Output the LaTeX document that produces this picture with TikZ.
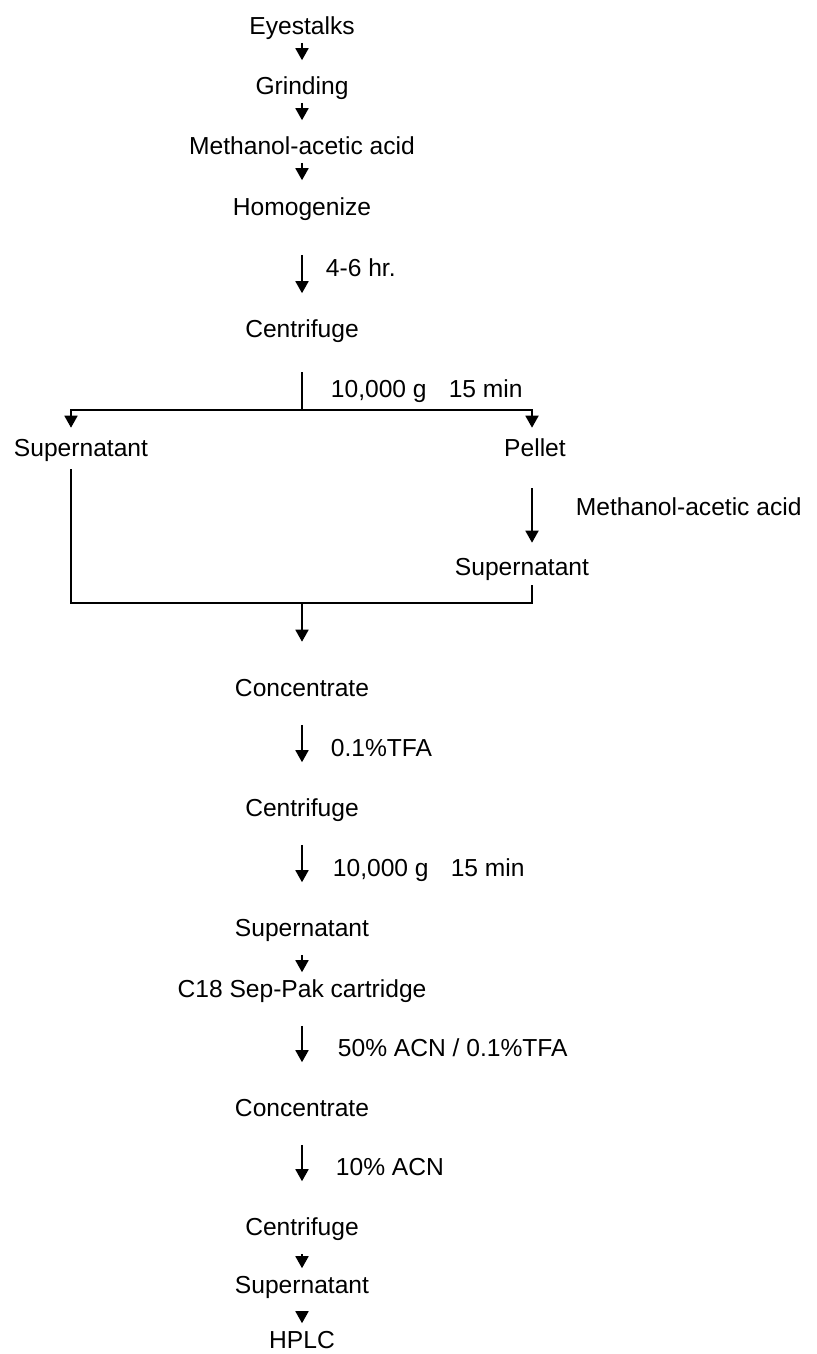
\documentclass[tikz,border=0pt]{standalone}
\usepackage{fontspec}
\setmainfont{Liberation Sans}
\usetikzlibrary{arrows.meta}

\begin{document}
\begin{tikzpicture}[
  x=0.5pt, y=-0.5pt,
  stage/.style={font=\fontsize{12.3pt}{14pt}\selectfont, inner sep=0pt, text height=9.2pt, text depth=2.7pt},
  note/.style={stage},
  link/.style={line width=0.9pt},
  arr/.style={link, -{Triangle[length=6pt,width=6.5pt]}},
  arrtop/.style={arr, shorten <=1pt, shorten >=8pt},
  arrlow/.style={arr, shorten <=6.5pt, shorten >=3pt},
  arrlong/.style={arr, shorten <=11.5pt, shorten >=17.5pt},
]
\useasboundingbox (0,0) rectangle (816,1354);

% ====== EXTRACTION ======
\node[stage] (eye) at (302,28.5) {Eyestalks};
\node[stage] (grind) at (302,88.5) {Grinding};
\node[stage] (meoh) at (302,148.5) {Methanol-acetic acid};
\node[stage] (homog) at (302,208.5) {Homogenize};
\node[stage] (spinA) at (302,330.5) {Centrifuge};

\draw[arrtop] (eye) -- (grind);
\draw[arrtop] (grind) -- (meoh);
\draw[arrtop] (meoh) -- (homog);
\draw[arrlong, shorten <=17pt, shorten >=12.5pt] (homog) -- node[note, right=11.5pt] {4-6 hr.} (spinA);

% ====== SPLIT: supernatant / pellet ======
\node[stage] (supL) at (81,449.5) {Supernatant};
\node[stage] (pellet) at (535,449.5) {Pellet};
\node[stage] (supR) at (522,568.5) {Supernatant};

\coordinate (split) at (302,410);
\draw[link] ([yshift=-14.75pt]spinA.south) -- node[note, right=14pt] {10,000 g\hspace{0.9em}15 min} (split);
\draw[arr, shorten >=4.75pt] (split) -| ([xshift=-5pt]supL.north);
\draw[arr, shorten >=4.75pt] (split) -| ([xshift=-1.5pt]pellet.north);

% re-extract pellet
\draw[arr, shorten <=13.25pt, shorten >=6.75pt] ([xshift=-1.5pt]pellet.south) -- node[note, right=21.5pt] {Methanol-acetic acid} ([xshift=5pt]supR.north);

% pool both supernatants
\coordinate (merge) at (302,603);
\draw[link] ([xshift=-5pt,yshift=-3.75pt]supL.south) |- (merge) -| ([xshift=5pt,yshift=-2.25pt]supR.south);

% ====== CLEAN-UP ======
\node[stage] (concA) at (302,689.5) {Concentrate};
\node[stage] (spinB) at (302,809.5) {Centrifuge};
\node[stage] (supB) at (302,929.5) {Supernatant};
\node[stage] (sepak) at (302,990.5) {C18 Sep-Pak cartridge};
\node[stage] (concB) at (302,1109.5) {Concentrate};
\node[stage] (spinC) at (302,1228.5) {Centrifuge};
\node[stage] (supC) at (302,1286.5) {Supernatant};
\node[stage] (hplc) at (302,1341.5) {HPLC};

\draw[arr, shorten >=17.75pt] (merge) -- (concA);
\draw[arrlong] (concA) -- node[note, right=14pt] {0.1\%TFA} (spinB);
\draw[arrlong] (spinB) -- node[note, right=15pt] {10,000 g\hspace{0.9em}15 min} (supB);
\draw[arrlow] (supB) -- (sepak);
\draw[arrlong] (sepak) -- node[note, right=17.5pt] {50\% ACN / 0.1\%TFA} (concB);
\draw[arrlong] (concB) -- node[note, right=16.5pt] {10\% ACN} (spinC);
\draw[arrlow] (spinC) -- (supC);
\draw[arrlow] (supC) -- (hplc);

\end{tikzpicture}
\end{document}
